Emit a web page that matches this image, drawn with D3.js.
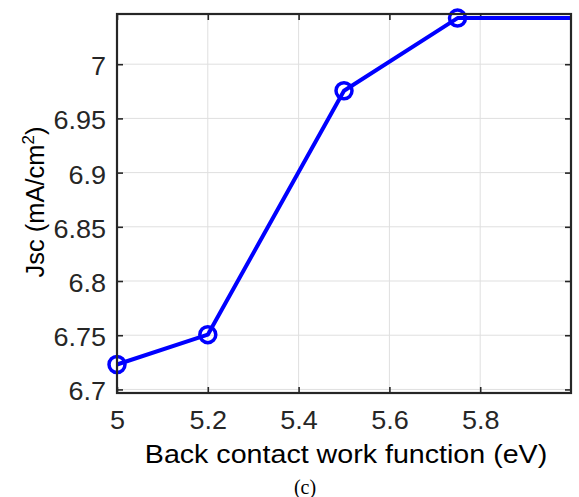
<!DOCTYPE html>
<html>
<head>
<meta charset="utf-8">
<script src="https://cdn.jsdelivr.net/npm/d3@7"></script>
<style>
  html, body { margin: 0; padding: 0; background: #fff; }
  svg { display: block; }
  text { font-family: "Liberation Sans", Arial, Helvetica, sans-serif; fill: #262626; }
</style>
</head>
<body>
<svg id="chart" width="579" height="497"></svg>
<script>
// Short-circuit current density versus back contact work function
const workFunction = [5.0, 5.2, 5.5, 5.75, 6.0];
const jsc = [6.723, 6.7505, 6.9755, 7.0425, 7.0425];
const markerFlags = [true, true, true, true, false];
const xTicks = [5, 5.2, 5.4, 5.6, 5.8];
const yTicks = [6.7, 6.75, 6.8, 6.85, 6.9, 6.95, 7];
const xLabel = "Back contact work function (eV)";
const caption = "(c)";

const svg = d3.select("#chart");
const plotLeft = 117, plotRight = 571, plotTop = 14, plotBottom = 393;
const stretch = 1.08; // slightly wide lettering

const x = d3.scaleLinear().domain([5, 6]).range([plotLeft, plotRight]);
const y = d3.scaleLinear().domain([6.6967, 7.0463]).range([plotBottom, plotTop]);

const axisColor = "#262626";
const gridColor = "#dfdfdf";

// grid lines
const grid = svg.append("g");
grid.selectAll(".gx").data(xTicks).join("line")
  .attr("x1", d => x(d)).attr("x2", d => x(d))
  .attr("y1", plotTop).attr("y2", plotBottom)
  .attr("stroke", gridColor).attr("stroke-width", 1);
grid.selectAll(".gy").data(yTicks).join("line")
  .attr("x1", plotLeft).attr("x2", plotRight)
  .attr("y1", d => y(d)).attr("y2", d => y(d))
  .attr("stroke", gridColor).attr("stroke-width", 1);

// axes with inward ticks on all four sides
const tickLen = 6;
const fmt = d => String(d);
const xAxisB = d3.axisBottom(x).tickValues(xTicks).tickSizeInner(-tickLen).tickSizeOuter(0).tickFormat(fmt);
const xAxisT = d3.axisTop(x).tickValues(xTicks).tickSizeInner(-tickLen).tickSizeOuter(0).tickFormat("");
const yAxisL = d3.axisLeft(y).tickValues(yTicks).tickSizeInner(-tickLen).tickSizeOuter(0).tickFormat(fmt);
const yAxisR = d3.axisRight(y).tickValues(yTicks).tickSizeInner(-tickLen).tickSizeOuter(0).tickFormat("");

function styleAxis(g) {
  g.select(".domain").remove();
  g.selectAll(".tick line").attr("stroke", axisColor).attr("stroke-width", 1.6);
  g.selectAll(".tick text").style("fill", axisColor).style("font-size", "25px");
}

svg.append("g").attr("transform", `translate(0,${plotBottom})`).call(xAxisB).call(styleAxis)
  .selectAll(".tick text")
  .attr("y", 36).attr("dy", 0)
  .attr("transform", `scale(${stretch},1)`);
svg.append("g").attr("transform", `translate(0,${plotTop})`).call(xAxisT).call(styleAxis);
svg.append("g").attr("transform", `translate(${plotLeft},0)`).call(yAxisL).call(styleAxis)
  .selectAll(".tick text")
  .attr("x", -11 / stretch).attr("dy", "0.42em")
  .attr("transform", `scale(${stretch},1)`);
svg.append("g").attr("transform", `translate(${plotRight},0)`).call(yAxisR).call(styleAxis);

// data line
const pts = workFunction.map((w, i) => ({ w, j: jsc[i], m: markerFlags[i] }));

svg.append("path")
  .datum(pts)
  .attr("fill", "none")
  .attr("stroke", "#0000ff")
  .attr("stroke-width", 4)
  .attr("stroke-linejoin", "round")
  .attr("d", d3.line().x(d => x(d.w)).y(d => y(d.j)));

svg.selectAll(".marker").data(pts.filter(d => d.m)).join("circle")
  .attr("cx", d => x(d.w)).attr("cy", d => y(d.j))
  .attr("r", 8)
  .attr("fill", "none")
  .attr("stroke", "#0000ff")
  .attr("stroke-width", 3.5);

// box
svg.append("rect")
  .attr("x", plotLeft).attr("y", plotTop)
  .attr("width", plotRight - plotLeft).attr("height", plotBottom - plotTop)
  .attr("fill", "none").attr("stroke", axisColor).attr("stroke-width", 2.2);

// axis labels
svg.append("text")
  .attr("transform", `translate(${(plotLeft + plotRight) / 2 + 2},463) scale(${stretch},1)`)
  .attr("text-anchor", "middle")
  .style("font-size", "26.5px")
  .style("fill", "#000")
  .text(xLabel);

const yl = svg.append("text")
  .attr("transform", `translate(44,202) rotate(-90)`)
  .attr("text-anchor", "middle")
  .style("font-size", "25.5px")
  .style("fill", "#000");
yl.append("tspan").text("Jsc (mA/cm");
yl.append("tspan").attr("dy", -10).style("font-size", "17px").text("2");
yl.append("tspan").attr("dy", 10).text(")");

svg.append("text")
  .attr("x", 305).attr("y", 494)
  .attr("text-anchor", "middle")
  .style("font-family", "'Liberation Serif', 'Times New Roman', serif")
  .style("font-size", "20px")
  .style("fill", "#000")
  .text(caption);
</script>
</body>
</html>
